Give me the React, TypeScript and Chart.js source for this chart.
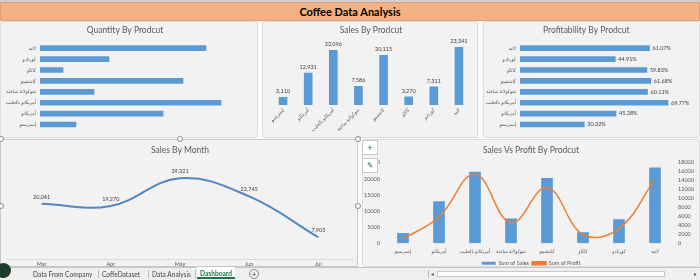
import React, { useEffect, useRef } from "react";
import { Chart, registerables } from "chart.js";

Chart.register(...registerables);

// ---------- data ----------
const products = [
  "إسبريسو",
  "أمريكانو",
  "أمريكانو بالحليب",
  "شوكولاتة ساخنة",
  "كابتشينو",
  "كاكاو",
  "كورتادو",
  "لاتيه",
];
const quantities = [144, 492, 724, 216, 572, 92, 276, 664];
const sales = [3110, 12931, 22096, 7586, 20115, 3270, 7311, 23341];
const profitability = [30.32, 45.28, 69.77, 60.11, 61.68, 59.83, 44.91, 61.07];
const profits = [943, 5855, 15416, 4560, 12407, 1956, 3283, 14254];
const months = ["Mar", "Apr", "May", "Jun", "Jul"];
const monthlySales = [20041, 19270, 29321, 22745, 7905];
const tabs = ["Data From Company", "CoffeDataset", "Data Analysis", "Dashboard"];

// ---------- style ----------
const F = "Lato, 'DejaVu Sans Condensed', 'DejaVu Sans', sans-serif";
const BLUE = "#5b9bd5";
const LINE_BLUE = "#4f86c6";
const ORANGE = "#ed7d31";
const TXT = "#595959";

const fmt = (v: number) => v.toLocaleString("en-US");

function labelPlugin(kind: "hbar" | "vbar" | "point", format: (v: number) => string, dsIndex = 0) {
  return {
    id: "valueLabels" + kind,
    afterDatasetsDraw(chart: any) {
      const ctx = chart.ctx;
      const meta = chart.getDatasetMeta(dsIndex);
      const values = chart.data.datasets[dsIndex].data;
      ctx.save();
      ctx.fillStyle = "#404040";
      ctx.font = `5.5px ${F}`;
      meta.data.forEach((el: any, i: number) => {
        const t = format(values[i]);
        if (kind === "hbar") {
          ctx.textAlign = "left";
          ctx.textBaseline = "middle";
          ctx.fillText(t, el.x + 3, el.y);
        } else if (kind === "vbar") {
          ctx.textAlign = "center";
          ctx.textBaseline = "bottom";
          ctx.fillText(t, el.x, el.y - 3);
        } else {
          ctx.textAlign = "center";
          ctx.textBaseline = "middle";
          ctx.fillText(t, el.x, el.y - 7);
        }
      });
      ctx.restore();
    },
  };
}

const titleOpts = (text: string, top: number, bottom: number) => ({
  display: true,
  text,
  color: TXT,
  font: { family: F, size: 8.5, weight: "normal" as const },
  padding: { top, bottom },
});

const base = {
  responsive: false,
  animation: false as const,
  devicePixelRatio: 1,
  events: [] as any[],
};

const arabicTicks = { color: TXT, font: { family: F, size: 5 }, autoSkip: false };

function ChartBox({ left, top, width, height, config }: any) {
  const ref = useRef<HTMLCanvasElement>(null);
  useEffect(() => {
    const c = new Chart(ref.current as HTMLCanvasElement, config);
    return () => c.destroy();
  }, []);
  return (
    <canvas
      ref={ref}
      width={width}
      height={height}
      style={{ position: "absolute", left, top, width, height }}
    />
  );
}

const quantityConfig: any = {
  type: "bar",
  data: { labels: products, datasets: [{ data: quantities, backgroundColor: BLUE, barThickness: 5 }] },
  options: {
    ...base,
    indexAxis: "y",
    layout: { padding: { left: 0, right: 8, top: 0, bottom: 5.5 } },
    plugins: { legend: { display: false }, tooltip: { enabled: false }, title: titleOpts("Quantity By Prodcut", 5, 7.5) },
    scales: {
      x: { display: false, min: 0, max: 840 },
      y: {
        reverse: true,
        grid: { display: false, drawTicks: false },
        border: { display: false },
        ticks: { ...arabicTicks, padding: 4 },
        afterFit: (s: any) => { s.width = 40; },
      },
    },
  },
};

const salesConfig: any = {
  type: "bar",
  data: { labels: products, datasets: [{ data: sales, backgroundColor: BLUE, barThickness: 8 }] },
  options: {
    ...base,
    layout: { padding: { left: 8.5, right: 6.5, top: 0, bottom: 2 } },
    plugins: { legend: { display: false }, tooltip: { enabled: false }, title: titleOpts("Sales By Prodcut", 5, 8) },
    scales: {
      x: {
        grid: { display: false, drawTicks: false },
        border: { display: false },
        ticks: { ...arabicTicks, padding: 2, minRotation: 45, maxRotation: 45 },
        afterFit: (s: any) => { s.height = 30; },
      },
      y: { display: false, min: 0, max: 25000 },
    },
  },
  plugins: [labelPlugin("vbar", fmt)],
};

const profitabilityConfig: any = {
  type: "bar",
  data: { labels: products, datasets: [{ data: profitability, backgroundColor: BLUE, barThickness: 5 }] },
  options: {
    ...base,
    indexAxis: "y",
    layout: { padding: { left: 0, right: 10.3, top: 0, bottom: 5.5 } },
    plugins: { legend: { display: false }, tooltip: { enabled: false }, title: titleOpts("Profitability By Prodcut", 5, 7.5) },
    scales: {
      x: { display: false, min: 0, max: 80 },
      y: {
        reverse: true,
        grid: { display: false, drawTicks: false },
        border: { display: false },
        ticks: { ...arabicTicks, padding: 4 },
        afterFit: (s: any) => { s.width = 37; },
      },
    },
  },
  plugins: [labelPlugin("hbar", (v) => v.toFixed(2) + "%")],
};

const monthConfig: any = {
  type: "line",
  data: {
    labels: months,
    datasets: [{ data: monthlySales, borderColor: LINE_BLUE, borderWidth: 2, tension: 0.4, pointRadius: 0, fill: false }],
  },
  options: {
    ...base,
    layout: { padding: { left: 7, right: 5, top: 0, bottom: 0 } },
    plugins: { legend: { display: false }, tooltip: { enabled: false }, title: titleOpts("Sales By Month", 6, 7.5) },
    scales: {
      x: {
        offset: true,
        grid: { display: false, drawTicks: false },
        border: { display: true, color: "#d9d9d9" },
        ticks: { color: TXT, font: { family: F, size: 5.5 }, padding: 2 },
        afterFit: (s: any) => { s.height = 8; },
      },
      y: { display: false, min: 0, max: 35000 },
    },
  },
  plugins: [labelPlugin("point", fmt)],
};

const plain = (v: any) => String(v);

const comboConfig: any = {
  type: "bar",
  data: {
    labels: products,
    datasets: [
      { type: "bar", label: "Sum of Sales", data: sales, backgroundColor: BLUE, borderWidth: 0, barThickness: 11, yAxisID: "y", order: 1 },
      {
        type: "line", label: "Sum of Profit", data: profits, borderColor: ORANGE, backgroundColor: ORANGE,
        borderWidth: 1.5, tension: 0.4, pointRadius: 0, yAxisID: "y1", order: 0, fill: false,
      },
    ],
  },
  options: {
    ...base,
    layout: { padding: { left: 0, right: 0, top: 0, bottom: 0 } },
    plugins: {
      tooltip: { enabled: false },
      title: titleOpts("Sales Vs Profit By Prodcut", 6, 7.4),
      legend: {
        position: "bottom",
        labels: {
          color: TXT, font: { family: F, size: 5.5 }, boxWidth: 14, boxHeight: 3, padding: 3,
          sort: (a: any, b: any) => a.datasetIndex - b.datasetIndex,
        },
      },
    },
    scales: {
      x: {
        grid: { display: false, drawTicks: false },
        border: { display: false },
        ticks: { ...arabicTicks, padding: 5.5, maxRotation: 0 },
        afterFit: (s: any) => { s.height = 14.25; },
      },
      y: {
        position: "left", min: 0, max: 25000,
        grid: { display: false, drawTicks: false }, border: { display: false },
        ticks: { stepSize: 5000, autoSkip: false, color: TXT, font: { family: F, size: 5.5 }, padding: 5, callback: plain },
        afterFit: (s: any) => { s.width = 23; },
      },
      y1: {
        position: "right", min: 0, max: 18000,
        grid: { display: false, drawTicks: false }, border: { display: false },
        ticks: { stepSize: 2000, autoSkip: false, color: TXT, font: { family: F, size: 5.5 }, padding: 5, callback: plain },
        afterFit: (s: any) => { s.width = 27; },
      },
    },
  },
};

const panel = (left: number, top: number, width: number, height: number, extra: any = {}) => (
  <div
    style={{
      position: "absolute", left, top, width, height, boxSizing: "border-box",
      background: "#f2f2f2", border: "1px solid #dcdcdc", borderRadius: 3, ...extra,
    }}
  />
);

const handle = (x: number, y: number, key: string) => (
  <div
    key={key}
    style={{
      position: "absolute", left: x - 3, top: y - 3, width: 6, height: 6, borderRadius: "50%",
      background: "#fff", border: "1px solid #8a8a8a", boxSizing: "border-box",
    }}
  />
);

const tabX = [33, 102, 152, 200];

export default function App() {
  return (
    <div
      style={{
        position: "fixed", left: 0, top: 0, width: 700, height: 280, overflow: "hidden",
        background: "#fbfbfb", fontFamily: F,
      }}
    >
      <div style={{ position: "absolute", left: 0, top: 0, width: 700, height: 2, background: "#d0d0d0" }} />
      <div
        style={{
          position: "absolute", left: 0, top: 2, width: 700, height: 19, boxSizing: "border-box",
          background: "#f4b183", border: "1px solid #dda07c", display: "flex", alignItems: "center",
          justifyContent: "center", fontWeight: 700, fontSize: 11, color: "#000",
        }}
      >
        Coffee Data Analysis
      </div>

      {panel(0, 21, 258, 117)}
      {panel(262, 21, 216, 117)}
      {panel(483, 21, 217, 117)}
      {panel(0, 139, 358, 128, { border: "1px solid #c8c8c8", borderRadius: 0 })}
      {panel(362, 139, 338, 128)}

      <ChartBox left={0} top={20} width={258} height={117} config={quantityConfig} />
      <ChartBox left={262} top={20} width={216} height={117} config={salesConfig} />
      <ChartBox left={483} top={20} width={217} height={117} config={profitabilityConfig} />
      <ChartBox left={0} top={139} width={358} height={128} config={monthConfig} />
      <ChartBox left={362} top={139} width={338} height={137} config={comboConfig} />

      {[handle(1, 139, "a"), handle(180, 139, "b"), handle(358, 139, "c"), handle(1, 206, "d"), handle(358, 206, "e")]}

      <div
        style={{
          position: "absolute", left: 362, top: 140, width: 16, height: 15, boxSizing: "border-box",
          background: "#fff", border: "1px solid #c8c8c8", fontSize: 10, lineHeight: "13px",
          textAlign: "center", color: "#217346",
        }}
      >
        +
      </div>
      <div
        style={{
          position: "absolute", left: 362, top: 158, width: 16, height: 15, boxSizing: "border-box",
          background: "#fff", border: "1px solid #c8c8c8", fontSize: 8, lineHeight: "13px",
          textAlign: "center", color: "#217346",
        }}
      >
        ✎
      </div>

      <div
        style={{
          position: "absolute", left: 0, top: 267, width: 700, height: 13, background: "#efefef",
          borderTop: "1px solid #c6c6c6", boxSizing: "border-box",
        }}
      >
        {tabs.map((t, i) => {
          const active = i === tabs.length - 1;
          return (
            <div
              key={t}
              style={{
                position: "absolute", left: tabX[i] - (active ? 3 : 0), top: active ? -1 : 1,
                height: active ? 12 : 10, padding: active ? "0 3px" : 0, fontSize: 6.6,
                lineHeight: active ? "12px" : "10px", color: active ? "#217346" : "#444",
                fontWeight: active ? 700 : 400, background: active ? "#fff" : "transparent",
                borderBottom: active ? "2px solid #217346" : "none", whiteSpace: "nowrap",
                boxSizing: "border-box",
              }}
            >
              {t}
            </div>
          );
        })}
        {[98, 148, 195].map((x) => (
          <div key={x} style={{ position: "absolute", left: x, top: 2, width: 1, height: 8, background: "#bdbdbd" }} />
        ))}
        <div
          style={{
            position: "absolute", left: 249, top: 1, width: 10, height: 10, borderRadius: "50%",
            border: "1px solid #8a8a8a", boxSizing: "border-box", fontSize: 8, lineHeight: "8px",
            textAlign: "center", color: "#555",
          }}
        >
          +
        </div>
        <div style={{ position: "absolute", left: 428, top: 2, width: 1, height: 8, background: "#bdbdbd" }} />
        <div style={{ position: "absolute", left: 431, top: 2, fontSize: 6, color: "#555" }}>◂</div>
        <div
          style={{
            position: "absolute", left: 437, top: 3, width: 228, height: 6, background: "#fff",
            border: "1px solid #c8c8c8", boxSizing: "border-box",
          }}
        />
        <div style={{ position: "absolute", left: 694, top: 2, fontSize: 6, color: "#555" }}>▸</div>
      </div>
      <div
        style={{
          position: "absolute", left: -4, top: 263, width: 15, height: 15, borderRadius: "50%",
          background: "#1f3d2c",
        }}
      />
    </div>
  );
}
